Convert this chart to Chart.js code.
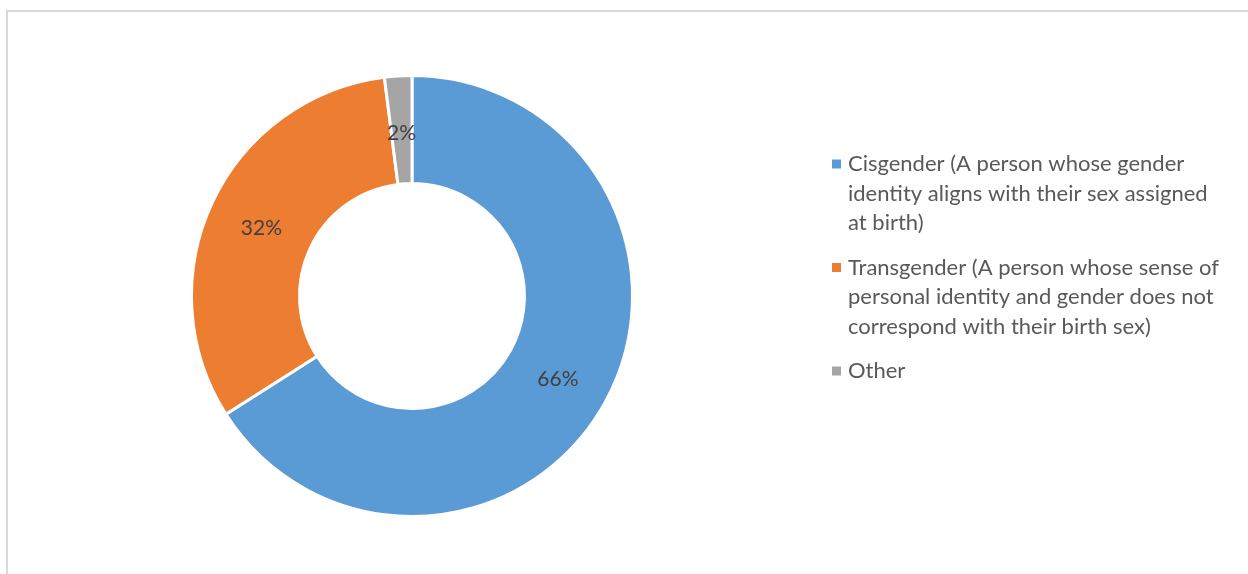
<!DOCTYPE html>
<html>
<head>
<meta charset="utf-8">
<script src="https://cdn.jsdelivr.net/npm/chart.js@4/dist/chart.umd.min.js"></script>
<style>
  html, body { margin: 0; padding: 0; background: #ffffff; overflow: hidden; }
  #wrap { position: relative; width: 1248px; height: 574px; }
  #frame { position: absolute; left: 6px; top: 10px; width: 1400px; height: 800px;
           border: 2px solid #d9d9d9; box-sizing: border-box; }
  #c { position: absolute; left: 0; top: 0; }
</style>
</head>
<body>
<div id="wrap">
  <div id="frame"></div>
  <canvas id="c" width="1248" height="574"></canvas>
</div>
<script>
// Gender identity breakdown (percent of respondents)
const categories = [
  'Cisgender (A person whose gender identity aligns with their sex assigned at birth)',
  'Transgender (A person whose sense of personal identity and gender does not correspond with their birth sex)',
  'Other'
];
const legendLines = [
  ['Cisgender (A person whose gender', 'identity aligns with their sex assigned', 'at birth)'],
  ['Transgender (A person whose sense of', 'personal identity and gender does not', 'correspond with their birth sex)'],
  ['Other']
];
const shares = [66, 32, 2];
const sliceColors = ['#5B9BD5', '#ED7D31', '#A5A5A5'];

const FONT = 'Lato, "Open Sans", sans-serif';

// Percent labels at the middle of each ring segment
const sliceLabels = {
  id: 'sliceLabels',
  afterDatasetsDraw(chart) {
    const ctx = chart.ctx;
    const meta = chart.getDatasetMeta(0);
    ctx.save();
    ctx.font = '21px ' + FONT;
    ctx.fillStyle = '#404040';
    ctx.textAlign = 'center';
    ctx.textBaseline = 'middle';
    meta.data.forEach((arc, i) => {
      const p = arc.tooltipPosition();
      ctx.fillText(chart.data.datasets[0].data[i] + '%', p.x, p.y + 3);
    });
    ctx.restore();
  }
};

// Wrapped legend on the right-hand side
const sideLegend = {
  id: 'sideLegend',
  afterDraw(chart) {
    const ctx = chart.ctx;
    const colors = chart.data.datasets[0].backgroundColor;
    const x0 = 832, textX = 848, lineH = 29.5, itemGap = 15;
    let y = 164;
    ctx.save();
    ctx.font = '22px ' + FONT;
    ctx.textBaseline = 'middle';
    ctx.textAlign = 'left';
    legendLines.forEach((lines, i) => {
      ctx.fillStyle = colors[i];
      ctx.fillRect(x0, y - 4.5, 9, 9);
      ctx.fillStyle = '#595959';
      lines.forEach((t, k) => ctx.fillText(t, textX, y + k * lineH));
      y += lines.length * lineH + itemGap;
    });
    ctx.restore();
  }
};

new Chart(document.getElementById('c'), {
  type: 'doughnut',
  data: {
    labels: categories,
    datasets: [{
      data: shares,
      backgroundColor: sliceColors,
      borderColor: '#ffffff',
      borderWidth: 3
    }]
  },
  options: {
    responsive: false,
    animation: false,
    cutout: '51%',
    layout: { padding: { left: 190, right: 614, top: 74, bottom: 56 } },
    plugins: {
      legend: { display: false },
      tooltip: { enabled: false }
    }
  },
  plugins: [sliceLabels, sideLegend]
});
</script>
</body>
</html>
